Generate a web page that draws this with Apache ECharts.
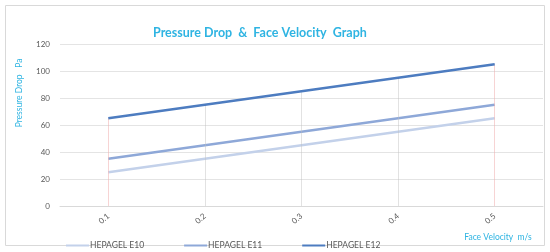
<!DOCTYPE html>
<html>
<head>
<meta charset="utf-8">
<script src="https://cdn.jsdelivr.net/npm/echarts@6/dist/echarts.min.js"></script>
<style>
  html, body { margin: 0; padding: 0; background: #fff; }
  #main { width: 550px; height: 252px; }
</style>
</head>
<body>
<div id="main"></div>
<script>
// face velocity (m/s)
var velocity = ['0.1', '0.2', '0.3', '0.4', '0.5'];
// pressure drop (Pa)
var e10 = [25, 35, 45, 55, 65];
var e11 = [35, 45, 55, 65, 75];
var e12 = [65, 75, 85, 95, 105];
var yTicks = [0, 20, 40, 60, 80, 100, 120];

var cyan = '#2fb4e2';
var font = 'Lato';

// faint drop lines from the axis up to the top series
var drops = velocity.map(function (v, i) {
  var edge = (i === 0 || i === velocity.length - 1);
  return [
    { coord: [v, 0] },
    { coord: [v, e12[i]], lineStyle: { color: edge ? 'rgba(240,170,170,0.5)' : 'rgba(190,190,190,0.45)' } }
  ];
});

var myChart = echarts.init(document.getElementById('main'));
var option = {
  animation: false,
  textStyle: { fontFamily: font },
  title: {
    text: 'Pressure Drop  &  Face Velocity  Graph',
    left: 148,
    top: 21,
    textStyle: { color: cyan, fontSize: 12.5, fontWeight: 'bold', fontFamily: font }
  },
  legend: {
    left: 61,
    top: 236,
    itemGap: 40,
    itemWidth: 23,
    itemHeight: 2,
    icon: 'rect',
    textStyle: { color: '#595959', fontSize: 8.5, fontFamily: font, padding: [0, 0, 0, -4] },
    data: ['HEPAGEL E10', 'HEPAGEL E11', 'HEPAGEL E12']
  },
  grid: { left: 60, right: 7, top: 44, bottom: 46 },
  xAxis: {
    type: 'category',
    data: velocity,
    axisLine: { lineStyle: { color: '#d9d9d9' } },
    axisTick: { show: false },
    axisLabel: { color: '#595959', fontSize: 8, rotate: 40, margin: 9 }
  },
  yAxis: {
    type: 'value',
    min: yTicks[0],
    max: yTicks[yTicks.length - 1],
    interval: 20,
    axisLine: { show: false },
    axisTick: { show: false },
    axisLabel: { color: '#595959', fontSize: 8, margin: 10 },
    splitLine: { lineStyle: { color: '#e4e4e4' } }
  },
  graphic: [
    {
      type: 'rect',
      shape: { x: 5.5, y: 5.5, width: 539, height: 240 },
      style: { fill: 'none', stroke: '#d9d9d9', lineWidth: 1 },
      silent: true
    },
    {
      type: 'text',
      x: 19, y: 93,
      rotation: Math.PI / 2,
      style: {
        text: 'Pressure Drop   Pa',
        fill: cyan, fontSize: 8.5, fontFamily: font,
        align: 'center', verticalAlign: 'middle'
      }
    },
    {
      type: 'text',
      x: 498, y: 237,
      style: {
        text: 'Face Velocity  m/s',
        fill: cyan, fontSize: 8.5, fontFamily: font,
        align: 'center', verticalAlign: 'middle'
      }
    }
  ],
  series: [
    {
      name: 'HEPAGEL E10',
      type: 'line',
      data: e10,
      symbol: 'none',
      color: '#c3d1ea',
      lineStyle: { width: 2.3 },
      markLine: {
        silent: true,
        symbol: 'none',
        label: { show: false },
        lineStyle: { type: 'solid', width: 1 },
        data: drops
      },
      z: 3
    },
    {
      name: 'HEPAGEL E11',
      type: 'line',
      data: e11,
      symbol: 'none',
      color: '#8ea8d8',
      lineStyle: { width: 2.3 },
      z: 4
    },
    {
      name: 'HEPAGEL E12',
      type: 'line',
      data: e12,
      symbol: 'none',
      color: '#4d7cc0',
      lineStyle: { width: 2.5 },
      z: 5
    }
  ]
};
myChart.setOption(option);
</script>
</body>
</html>
